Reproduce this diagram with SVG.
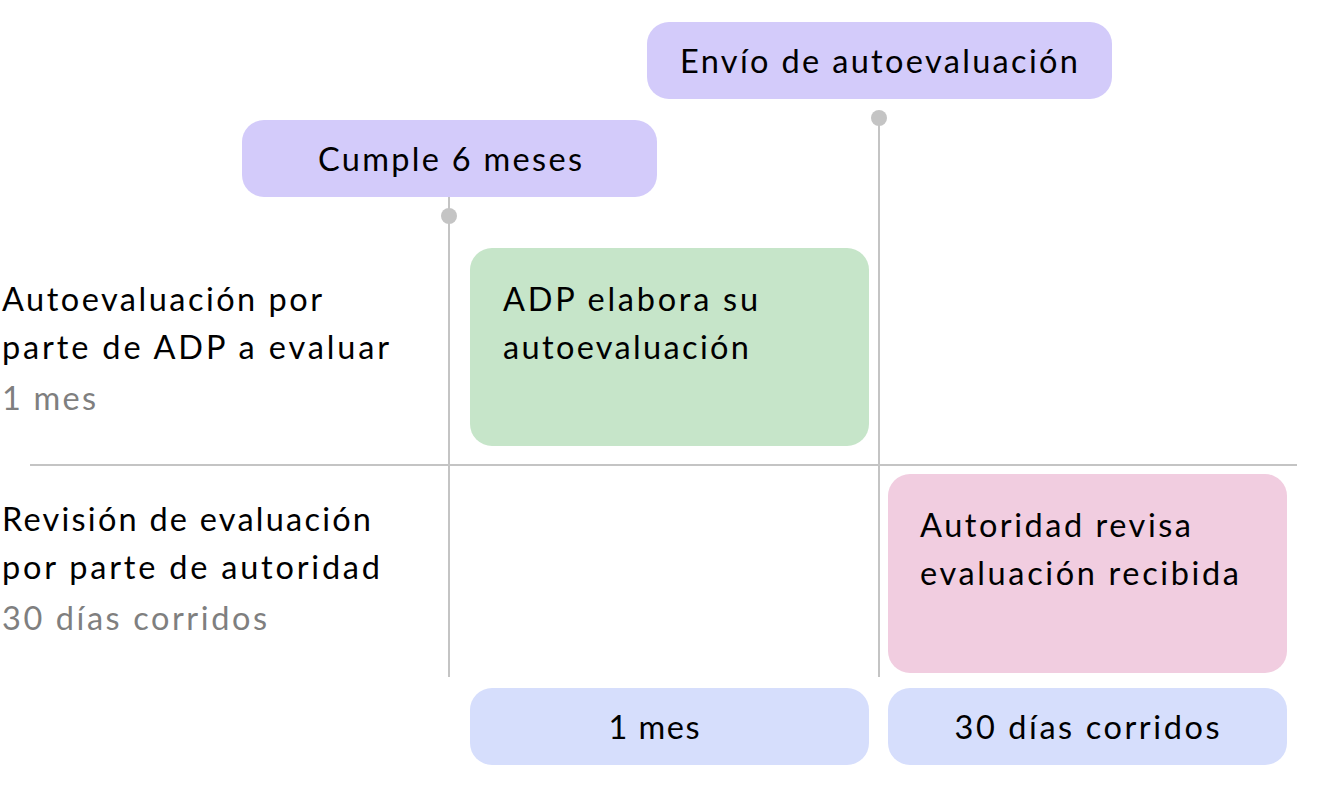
<svg xmlns="http://www.w3.org/2000/svg" width="1318" height="790" viewBox="0 0 1318 790">
<style>
text{font-family:"Lato","Liberation Sans",sans-serif;font-size:32.5px;fill:#000}
.g{fill:#7f7f7f}
.m{text-anchor:middle}
.ln{stroke:#c4c4c4;stroke-width:2;fill:none}
.dot{fill:#c4c4c4}
.ev{fill:#d3cbfa}
.du{fill:#d6defc}
</style>
<rect width="1318" height="790" fill="#fff"/>
<g id="connectors">
<line class="ln" x1="30" y1="465" x2="1297" y2="465"/>
<line class="ln" x1="449" y1="197" x2="449" y2="677"/>
<line class="ln" x1="879" y1="118" x2="879" y2="677"/>
<circle class="dot" cx="449" cy="216" r="8"/>
<circle class="dot" cx="879" cy="118" r="8"/>
</g>
<g id="row1-label">
<text x="2" y="311" textLength="320">Autoevaluación por</text>
<text x="2" y="359" textLength="387">parte de ADP a evaluar</text>
<text x="2" y="410" class="g" textLength="94">1 mes</text>
</g>
<g id="row2-label">
<text x="2" y="531" textLength="369">Revisión de evaluación</text>
<text x="2" y="579" textLength="378">por parte de autoridad</text>
<text x="2" y="630" class="g" textLength="265">30 días corridos</text>
</g>
<g id="envio">
<rect class="ev" x="647" y="22" width="465" height="77" rx="22"/>
<text class="m" x="879" y="73" textLength="398">Envío de autoevaluación</text>
</g>
<g id="cumple">
<rect class="ev" x="242" y="120" width="415" height="77" rx="22"/>
<text class="m" x="450" y="171" textLength="264">Cumple 6 meses</text>
</g>
<g id="adp">
<rect x="470" y="248" width="399" height="198" rx="22" fill="#c6e5c9"/>
<text x="503" y="311" textLength="255">ADP elabora su</text>
<text x="503" y="359" textLength="246">autoevaluación</text>
</g>
<g id="autoridad">
<rect x="888" y="474" width="399" height="199" rx="22" fill="#f1cde0"/>
<text x="920" y="537" textLength="271">Autoridad revisa</text>
<text x="920" y="585" textLength="319">evaluación recibida</text>
</g>
<g id="dur1">
<rect class="du" x="470" y="688" width="399" height="77" rx="22"/>
<text class="m" x="654" y="739" textLength="91">1 mes</text>
</g>
<g id="dur2">
<rect class="du" x="888" y="688" width="399" height="77" rx="22"/>
<text class="m" x="1087" y="739" textLength="265">30 días corridos</text>
</g>
</svg>
